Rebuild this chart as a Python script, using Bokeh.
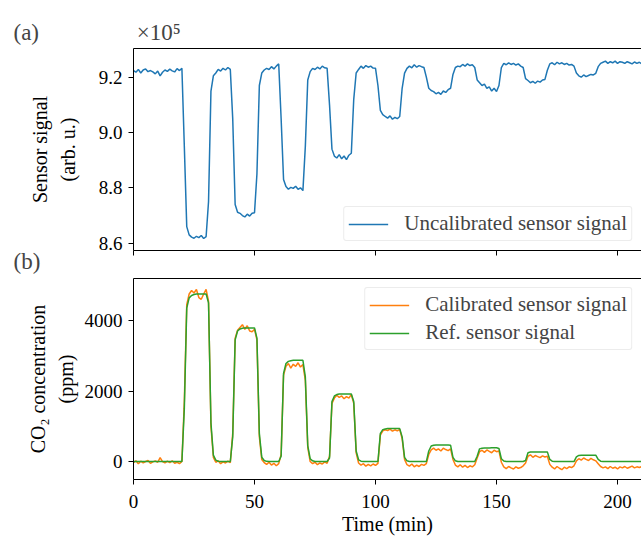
from bokeh.plotting import figure
from bokeh.models import Range1d, LinearAxis, Title, Legend, LegendItem, FixedTicker, CustomJSTickFormatter
from bokeh.layouts import column
from bokeh.embed import file_html
from bokeh.resources import INLINE

# Time axis (min)
time_min = list(range(0, 211))

# Uncalibrated sensor signal (x 1e5, arb. u.)
sensor_signal = [
    9.224, 9.218, 9.228, 9.215, 9.226, 9.230, 9.220, 9.224, 9.219, 9.212,
    9.222, 9.205, 9.218, 9.226, 9.221, 9.229, 9.223, 9.219, 9.231, 9.224,
    9.232, 8.950, 8.660, 8.630, 8.622, 8.618, 8.625, 8.620, 8.628, 8.617,
    8.624, 8.750, 9.150, 9.205, 9.215, 9.228, 9.222, 9.232, 9.226, 9.235,
    9.228, 9.050, 8.740, 8.712, 8.708, 8.700, 8.695, 8.705, 8.698, 8.708,
    8.710, 8.850, 9.170, 9.215, 9.226, 9.232, 9.228, 9.238, 9.230, 9.240,
    9.248, 9.050, 8.830, 8.805, 8.795, 8.802, 8.798, 8.806, 8.795, 8.800,
    8.790, 8.950, 9.190, 9.220, 9.232, 9.228, 9.236, 9.230, 9.240, 9.234,
    9.232, 9.100, 8.940, 8.915, 8.908, 8.920, 8.905, 8.915, 8.902, 8.918,
    8.925, 9.120, 9.215, 9.228, 9.240, 9.232, 9.242, 9.236, 9.240, 9.233,
    9.232, 9.170, 9.080, 9.065, 9.058, 9.052, 9.060, 9.048, 9.055, 9.050,
    9.058, 9.160, 9.215, 9.232, 9.240, 9.234, 9.245, 9.236, 9.242, 9.238,
    9.235, 9.200, 9.160, 9.152, 9.148, 9.140, 9.145, 9.138, 9.150, 9.145,
    9.155, 9.160, 9.210, 9.235, 9.240, 9.238, 9.246, 9.240, 9.248, 9.242,
    9.245, 9.235, 9.190, 9.180, 9.170, 9.175, 9.160, 9.165, 9.150, 9.160,
    9.148, 9.170, 9.235, 9.250, 9.245, 9.252, 9.246, 9.250, 9.244, 9.248,
    9.240, 9.235, 9.195, 9.188, 9.180, 9.185, 9.178, 9.186, 9.182, 9.190,
    9.192, 9.225, 9.248, 9.252, 9.245, 9.254, 9.248, 9.252, 9.246, 9.250,
    9.244, 9.246, 9.240, 9.215, 9.205, 9.200, 9.208, 9.202, 9.206, 9.210,
    9.208, 9.214, 9.238, 9.250, 9.254, 9.258, 9.250, 9.256, 9.252, 9.258,
    9.250, 9.256, 9.254, 9.250, 9.256, 9.252, 9.248, 9.255, 9.250, 9.254,
    9.248,
]

# Calibrated sensor signal (ppm)
calibrated_ppm = [
    -30, 20, -60, 10, -40, 0, 30, -50, -10, 20,
    -20, 110, 0, -40, 10, -30, 20, -50, -20, -60,
    0, 1700, 4450, 4750, 4850, 4780, 4880, 4650, 4600, 4750,
    4880, 4550, 1000, 120, -20, 20, -60, -10, -40, 10,
    -30, 800, 3500, 3720, 3800, 3880, 3750, 3850, 3700, 3680,
    3750, 3450, 700, 60, -30, -80, -20, -100, -50, -120,
    -60, 200, 2450, 2700, 2780, 2650, 2760, 2700, 2800, 2680,
    2750, 2300, 400, 0, -60, -20, -90, -40, -70, -10,
    -50, 150, 1650, 1800, 1880, 1820, 1860, 1780, 1840, 1800,
    1900, 1650, 250, -40, -100, -60, -130, -80, -120, -70,
    -110, -50, 750, 870, 900, 880, 920, 860, 900, 870,
    910, 650, 60, -90, -130, -70, -150, -100, -140, -80,
    -110, -60, 200, 330, 380, 320, 360, 300, 380, 340,
    310, 360, 60, -100, -150, -90, -160, -110, -170, -120,
    -150, -90, 100, 280, 320, 260, 330, 290, 250, 320,
    280, 300, -20, -150, -200, -140, -180, -210, -150, -190,
    -170, -120, -40, 150, 190, 120, 170, 140, 110, 160,
    130, 150, -80, -160, -210, -140, -190, -230, -160, -200,
    -150, -170, -120, 20, 80, 40, 100, 60, 30, 90,
    50, 20, -60, -140, -180, -150, -200, -140, -190, -160,
    -210, -150, -180, -140, -190, -160, -130, -180, -150, -170,
    -140,
]

# Reference sensor signal (ppm)
reference_ppm = [
    0, 0, 0, 0, 0, 0, 0, 0, 0, 0,
    0, 0, 0, 0, 0, 0, 0, 0, 0, 0,
    0, 1500, 4350, 4640, 4710, 4735, 4750, 4750, 4750, 4750,
    4750, 4500, 1100, 180, 40, 10, 0, 0, 0, 0,
    0, 700, 3450, 3700, 3760, 3780, 3790, 3790, 3790, 3790,
    3790, 3500, 800, 120, 30, 5, 0, 0, 0, 0,
    0, 150, 2500, 2780, 2840, 2860, 2870, 2870, 2870, 2870,
    2870, 2400, 450, 80, 20, 0, 0, 0, 0, 0,
    0, 100, 1700, 1860, 1900, 1915, 1915, 1915, 1915, 1915,
    1915, 1700, 300, 50, 10, 0, 0, 0, 0, 0,
    0, 0, 800, 905, 925, 934, 934, 934, 934, 934,
    934, 700, 120, 20, 0, 0, 0, 0, 0, 0,
    0, 0, 300, 440, 462, 470, 470, 470, 470, 470,
    470, 465, 120, 20, 0, 0, 0, 0, 0, 0,
    0, 0, 150, 360, 380, 385, 387, 387, 388, 389,
    390, 370, 80, 15, 0, 0, 0, 0, 0, 0,
    0, 0, 30, 250, 268, 274, 274, 274, 274, 274,
    274, 274, 60, 10, 0, 0, 0, 0, 0, 0,
    0, 0, 0, 130, 172, 179, 179, 179, 179, 179,
    179, 179, 60, 10, 0, 0, 0, 0, 0, 0,
    0, 0, 0, 0, 0, 0, 0, 0, 0, 0,
    0,
]

x_ticks = [0, 50, 100, 150, 200]
top_ticks = [8.6, 8.8, 9.0, 9.2]
bottom_ticks = [0, 2000, 4000]

BLUE = "#1f77b4"
ORANGE = "#ff7f0e"
GREEN = "#2ca02c"
FONT = "Liberation Serif"
TICK_FS = "19px"
LABEL_FS = "20px"
LEG_FS = "21px"
PANEL_FS = "23px"

W = 641
LEFT = 133
TOP2 = 48
OVERLAP = TOP2 - 28 + 8


def style_axes(p, label_standoff):
    p.outline_line_color = None
    p.background_fill_color = "white"
    p.xgrid.grid_line_color = None
    p.ygrid.grid_line_color = None
    for ax in p.xaxis + p.yaxis:
        ax.axis_line_color = "black"
        ax.axis_line_width = 1
        ax.major_tick_line_color = "black"
        ax.major_tick_out = 5
        ax.major_tick_in = 0
        ax.minor_tick_line_color = None
        ax.major_label_text_font = FONT
        ax.major_label_text_font_size = TICK_FS
        ax.major_label_text_color = "black"
        ax.axis_label_text_font = FONT
        ax.axis_label_text_font_size = LABEL_FS
        ax.axis_label_text_font_style = "normal"
        ax.axis_label_text_color = "black"
        ax.major_label_standoff = 6
    p.yaxis.axis_label_standoff = label_standoff
    p.yaxis.axis_label_text_line_height = 1.25


def add_top_spine(p):
    # top spine: an axis without ticks or labels
    top_axis = LinearAxis(ticker=FixedTicker(ticks=[]), major_tick_line_color=None,
                          minor_tick_line_color=None, major_label_standoff=0,
                          major_tick_out=0, major_tick_in=0, axis_line_color="black")
    p.add_layout(top_axis, "above")


def style_legend(lg):
    lg.label_text_font = FONT
    lg.label_text_font_size = LEG_FS
    lg.border_line_color = "#d9d9d9"
    lg.border_line_width = 1
    lg.background_fill_alpha = 0.8
    lg.glyph_width = 40
    lg.label_standoff = 16
    lg.padding = 4
    lg.spacing = 3
    lg.margin = 9
    if "border_radius" in lg.properties():
        lg.border_radius = 3


# ---------- top panel ----------
p1 = figure(width=W, height=48 + 202 + 8, output_backend="svg", toolbar_location=None,
            x_range=Range1d(0, 209.9), y_range=Range1d(8.5736, 9.3037),
            min_border_left=LEFT, min_border_right=0, min_border_top=48,
            min_border_bottom=8)
p1.border_fill_color = "white"
r1 = p1.line(time_min, sensor_signal, line_color=BLUE, line_width=1.5)
p1.yaxis.axis_label = "Sensor signal\n(arb. u.)"
style_axes(p1, 17)
p1.xaxis.ticker = FixedTicker(ticks=x_ticks)
p1.xaxis.formatter = CustomJSTickFormatter(code="return '';")
p1.xaxis.major_label_text_font_size = "0px"
p1.xaxis.major_label_standoff = 0
p1.yaxis.ticker = FixedTicker(ticks=top_ticks)
p1.yaxis.formatter = CustomJSTickFormatter(code="return tick.toFixed(1);")
add_top_spine(p1)

leg1 = Legend(items=[LegendItem(label="Uncalibrated sensor signal", renderers=[r1])],
              location="bottom_right")
style_legend(leg1)
p1.add_layout(leg1)

title_a = Title(text="(a)\u2003\u2003\u2003\u2003\u00a0×10⁵", align="left", offset=-120,
                text_font=FONT, text_font_size=PANEL_FS, text_font_style="normal",
                vertical_align="middle", standoff=6)
p1.add_layout(title_a, "above")

# ---------- bottom panel ----------
p2 = figure(width=W, height=TOP2 + 202 + 57, output_backend="svg", toolbar_location=None,
            x_range=p1.x_range, y_range=Range1d(-509, 5190),
            min_border_left=LEFT, min_border_right=0, min_border_top=TOP2,
            min_border_bottom=57, margin=(-OVERLAP, 0, 0, 0))
p2.border_fill_color = None
r2 = p2.line(time_min, calibrated_ppm, line_color=ORANGE, line_width=1.5)
r3 = p2.line(time_min, reference_ppm, line_color=GREEN, line_width=1.5)
p2.yaxis.axis_label = "CO₂ concentration\n(ppm)"
p2.xaxis.axis_label = "Time (min)"
style_axes(p2, 5)
p2.xaxis.ticker = FixedTicker(ticks=x_ticks)
p2.yaxis.ticker = FixedTicker(ticks=bottom_ticks)
p2.xaxis.major_label_standoff = 10
p2.xaxis.axis_label_standoff = 2
add_top_spine(p2)

leg2 = Legend(items=[LegendItem(label="Calibrated sensor signal", renderers=[r2]),
                     LegendItem(label="Ref. sensor signal", renderers=[r3])],
              location="top_right")
style_legend(leg2)
p2.add_layout(leg2)

title_b = Title(text="(b)", align="left", offset=-120,
                text_font=FONT, text_font_size=PANEL_FS, text_font_style="normal",
                vertical_align="middle", standoff=8)
p2.add_layout(title_b, "above")

layout = column(p1, p2, spacing=0)
open("out.html", "w").write(file_html(layout, INLINE))
